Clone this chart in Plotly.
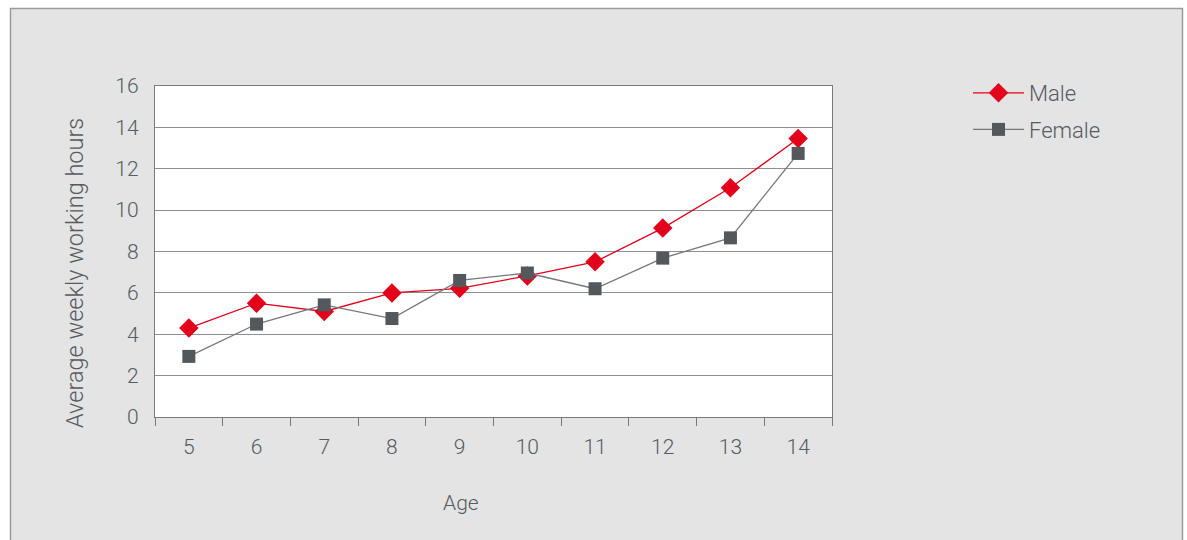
import plotly.graph_objects as go

ages = ["5", "6", "7", "8", "9", "10", "11", "12", "13", "14"]
male = [4.3, 5.5, 5.1, 6.0, 6.22, 6.82, 7.5, 9.13, 11.08, 13.46]
female = [2.93, 4.49, 5.42, 4.76, 6.6, 6.96, 6.2, 7.68, 8.66, 12.74]
y_ticks = [0, 2, 4, 6, 8, 10, 12, 14, 16]

TEXT = "#565b61"
GRID = "#8e8f91"
BG = "#e3e4e3"
FONT = "Roboto"
WEIGHT = 300

fig = go.Figure()
fig.add_trace(go.Scatter(
    x=ages, y=male, name="Male", mode="lines+markers", legendgroup="m",
    line=dict(color="#e2001a", width=1.3),
    marker=dict(symbol="diamond", size=15, color="#e2001a"),
))
fig.add_trace(go.Scatter(
    x=ages, y=female, name="Female", mode="lines+markers", legendgroup="f",
    line=dict(color="#75787b", width=1.3),
    marker=dict(symbol="square", size=13, color="#53585d"),
))

W, H = 1187, 540
L, R, T, B = 155, 832, 86, 417
pw, ph = R - L, B - T

def px(x):
    return (x - L) / pw

def py(y):
    return (B - y) / ph

def f(size):
    return dict(family=FONT, size=size, color=TEXT, weight=WEIGHT)

fig.update_layout(
    width=W, height=H,
    margin=dict(l=L, r=W - R, t=T, b=H - B, pad=0),
    paper_bgcolor=BG, plot_bgcolor="white",
    font=f(20),
    showlegend=True,
    legend=dict(x=px(968), y=py(72), xanchor="left", yanchor="top",
                bgcolor="rgba(0,0,0,0)", font=f(22),
                tracegroupgap=5, itemwidth=51),
    xaxis=dict(type="category", range=[-0.5, 9.5], showgrid=False,
               showline=True, linecolor="#77797c", linewidth=1.3, mirror=True,
               ticks="outside", tickson="boundaries", ticklen=8, tickcolor="#77797c",
               tickwidth=1.3, ticklabelstandoff=11, tickfont=f(21)),
    yaxis=dict(range=[0, 16], tickvals=y_ticks, showgrid=True, gridcolor=GRID, gridwidth=1.2,
               showline=True, linecolor="#77797c", linewidth=1.3, mirror=True,
               zeroline=False, ticks="", ticklabelstandoff=11,
               tickfont=f(21)),
    shapes=[
        dict(type="rect", xref="paper", yref="paper", x0=px(-5), x1=px(10), y0=py(560), y1=py(-5),
             fillcolor="white", line=dict(width=0), layer="above"),
        dict(type="rect", xref="paper", yref="paper", x0=px(-5), x1=px(1195), y0=py(8), y1=py(-5),
             fillcolor="white", line=dict(width=0), layer="above"),
        dict(type="rect", xref="paper", yref="paper", x0=px(1182), x1=px(1195), y0=py(560), y1=py(-5),
             fillcolor="white", line=dict(width=0), layer="above"),
        dict(type="rect", xref="paper", yref="paper", x0=px(10.5), x1=px(1182.5), y0=py(560), y1=py(8.5),
             fillcolor="rgba(0,0,0,0)", line=dict(color="#9a9b9d", width=1.5), layer="above"),
    ],
    annotations=[
        dict(text="Age", xref="paper", yref="paper", x=px(461), y=py(503),
             xanchor="center", yanchor="middle", showarrow=False, font=f(21)),
        dict(text="Average weekly working hours", xref="paper", yref="paper", x=px(75), y=py(273),
             xanchor="center", yanchor="middle", textangle=-90, showarrow=False,
             font=f(23.5)),
    ],
)

fig.write_html("out.html")
